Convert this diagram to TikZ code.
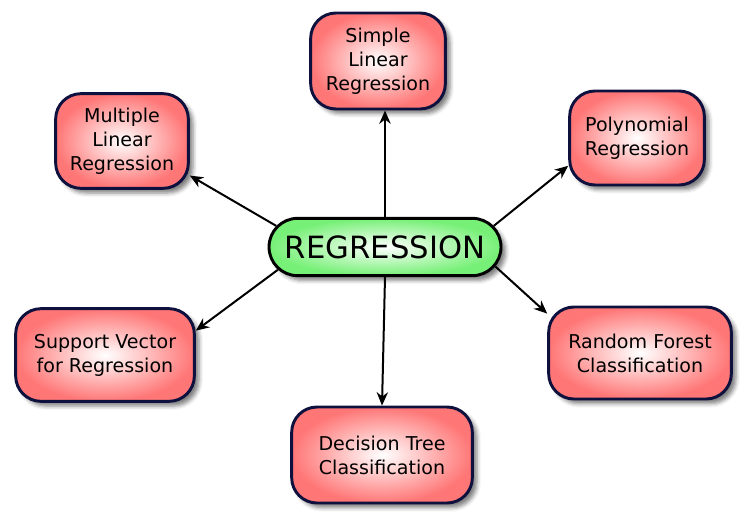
\documentclass[tikz,border=0pt]{standalone}
\usepackage{fontspec}
\setmainfont{DejaVu Sans}
\usetikzlibrary{arrows.meta,shadows.blur,shapes.misc}
\definecolor{boxline}{RGB}{14,16,62}
\definecolor{boxfill}{RGB}{255,118,118}
\definecolor{regfill}{RGB}{118,240,118}

\begin{document}
\begin{tikzpicture}[x=0.75pt,y=-0.75pt,
  box/.style={draw=boxline,line width=2.2pt,rounded corners=19pt,align=center,
    inner color=white,outer color=boxfill,inner sep=2pt,
    blur shadow={shadow xshift=3.5pt,shadow yshift=-3.5pt,shadow opacity=50,shadow blur radius=3pt},
    font=\fontsize{14.3}{18}\selectfont},
  arr/.style={line width=1.5pt,-{Stealth[length=10pt,width=8.5pt]}}]
\useasboundingbox (0,0) rectangle (755,527);
\node [box,rounded rectangle,sharp corners,draw=black,outer color=regfill,minimum width=178pt,minimum height=43pt,
  font=\fontsize{23}{26}\selectfont] (reg) at (385,247) {REGRESSION};
\node [box,minimum width=101pt,minimum height=72pt] (simple) at (378,61) {Simple\\Linear\\Regression};
\node [box,minimum width=99.5pt,minimum height=71pt] (multiple) at (122,141) {Multiple\\Linear\\Regression};
\node [box,minimum width=101pt,minimum height=70.5pt] (poly) at (637,138) {Polynomial\\Regression};
\node [box,minimum width=134pt,minimum height=69.5pt] (svr) at (105,355) {Support Vector\\for Regression};
\node [box,minimum width=137pt,minimum height=69pt] (forest) at (640,353) {Random Forest\\Classification};
\node [box,minimum width=135.5pt,minimum height=72pt] (tree) at (382,455) {Decision Tree\\Classification};

\draw [arr] (reg.north) -- (reg.north |- simple.south);
\draw [arr] (reg.169) -- (multiple.-27);
\draw [arr] (reg.11) -- (poly.202);
\draw [arr] (reg.192) -- (svr.15);
\draw [arr] (reg.-10) -- (forest.157);
\draw [arr] (reg.south) -- (tree.north);
\end{tikzpicture}
\end{document}
